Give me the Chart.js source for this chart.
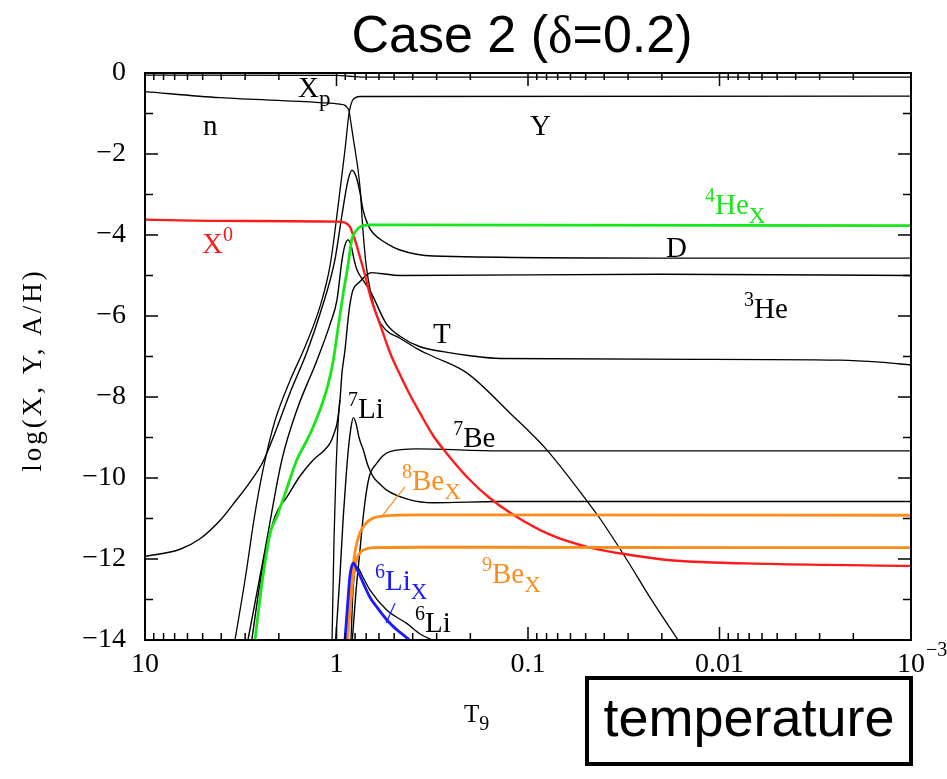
<!DOCTYPE html>
<html>
<head>
<meta charset="utf-8">
<script src="https://cdn.jsdelivr.net/npm/chart.js@4.4.1/dist/chart.umd.min.js"></script>
<style>
  html, body { margin: 0; padding: 0; background: #ffffff; }
  #wrap { position: relative; width: 947px; height: 779px; }
</style>
</head>
<body>
<div id="wrap"><canvas id="c" width="947" height="779"></canvas></div>
<script>
// Abundance tracks, each point is [T9, log10 abundance].
const protonXp = [[10,-0.05],[1.0,-0.06],[0.85,-0.08],[0.7,-0.1],[0.001,-0.1]];
const neutron = [[10,-0.46],[4.06,-0.61],[1.22,-0.73],[0.959,-0.77],[0.903,-0.80],[0.882,-0.85],[0.86,-0.93],[0.85,-1.08],[0.82,-1.57],[0.754,-2.81],[0.727,-3.9],[0.70,-4.75],[0.657,-5.5],[0.614,-6.02],[0.551,-6.35],[0.466,-6.55],[0.366,-6.85],[0.313,-7.0],[0.208,-7.41],[0.124,-8.40],[0.0796,-9.31],[0.0486,-10.6],[0.0421,-11.0],[0.0311,-11.95],[0.0225,-13.03],[0.0161,-14.07]];
const helium4Y = [[3.39,-14.0],[3.0,-12.5],[2.67,-10.9],[2.42,-9.8],[2.10,-8.6],[1.75,-7.6],[1.46,-6.76],[1.22,-5.77],[1.08,-4.75],[0.982,-3.3],[0.903,-1.9],[0.86,-1.0],[0.82,-0.66],[0.754,-0.58],[0.001,-0.57]];
const deuterium = [[10,-11.94],[6.56,-11.76],[5.16,-11.5],[4.06,-11.05],[3.47,-10.65],[2.83,-10.1],[2.42,-9.6],[2.10,-8.9],[1.75,-7.9],[1.43,-6.9],[1.22,-5.95],[1.02,-4.62],[0.936,-3.5],[0.871,-2.65],[0.83,-2.4],[0.791,-2.55],[0.754,-2.95],[0.727,-3.38],[0.685,-3.75],[0.645,-3.95],[0.551,-4.2],[0.466,-4.37],[0.313,-4.52],[0.0205,-4.57],[0.001,-4.57]];
const tritium = [[2.90,-14.0],[2.36,-11.76],[1.93,-9.56],[1.61,-8.32],[1.264,-7.09],[1.08,-6.2],[0.994,-5.6],[0.936,-4.62],[0.903,-4.25],[0.871,-4.12],[0.84,-4.25],[0.81,-4.6],[0.782,-4.86],[0.718,-5.15],[0.657,-5.44],[0.551,-6.18],[0.466,-6.5],[0.366,-6.76],[0.278,-6.88],[0.201,-6.98],[0.14,-7.05],[0.01265,-7.07],[0.00235,-7.09],[0.00145,-7.14],[0.001,-7.21]];
const helium3 = [[2.77,-14.0],[2.45,-12.3],[2.10,-10.96],[1.81,-10.46],[1.55,-9.95],[1.327,-9.56],[1.15,-9.3],[1.08,-9.14],[1.03,-8.9],[0.994,-8.65],[0.959,-8.07],[0.936,-7.4],[0.903,-6.84],[0.871,-6.1],[0.85,-5.7],[0.82,-5.36],[0.754,-5.15],[0.693,-4.98],[0.657,-4.93],[0.593,-4.95],[0.466,-5.0],[0.0205,-4.97],[0.001,-5.0]];
// steep early rise that merges into the helium-3 track
const helium3Branch = [[1.055,-14.0],[1.03,-11.5],[1.006,-9.8],[0.988,-8.9],[0.97,-8.3],[0.959,-8.07]];
const lithium7 = [[1.01,-14.0],[0.959,-12.4],[0.922,-10.96],[0.892,-10.0],[0.868,-9.31],[0.84,-8.75],[0.817,-8.51],[0.791,-8.65],[0.763,-9.0],[0.724,-9.31],[0.685,-9.7],[0.643,-9.97],[0.593,-10.15],[0.547,-10.3],[0.413,-10.54],[0.313,-10.61],[0.14,-10.58],[0.001,-10.58]];
const beryllium7 = [[0.827,-14.0],[0.791,-12.8],[0.754,-11.78],[0.727,-11.0],[0.696,-10.3],[0.668,-9.9],[0.617,-9.64],[0.572,-9.45],[0.526,-9.35],[0.381,-9.28],[0.14,-9.33],[0.001,-9.33]];
const lithium6 = [[0.84,-14.0],[0.82,-12.8],[0.784,-12.19],[0.727,-12.45],[0.668,-12.77],[0.547,-13.26],[0.43,-13.59],[0.366,-13.85],[0.2987,-14.05]];
const xNeutral = [[10,-3.62],[4.06,-3.65],[0.994,-3.67],[0.936,-3.68],[0.882,-3.72],[0.85,-3.8],[0.83,-3.92],[0.791,-4.2],[0.754,-4.55],[0.718,-4.9],[0.657,-5.6],[0.593,-6.2],[0.526,-6.9],[0.466,-7.45],[0.413,-7.95],[0.366,-8.4],[0.313,-8.95],[0.265,-9.4],[0.201,-10.05],[0.158,-10.5],[0.12,-10.9],[0.0767,-11.4],[0.0474,-11.72],[0.0293,-11.9],[0.0181,-12.03],[0.00545,-12.12],[0.001,-12.17]];
const he4X = [[2.67,-14.04],[2.45,-12.6],[2.22,-11.36],[2.052,-10.96],[1.86,-10.4],[1.614,-9.56],[1.519,-9.31],[1.37,-8.9],[1.22,-8.32],[1.108,-7.7],[1.039,-7.09],[0.979,-6.26],[0.922,-5.44],[0.868,-4.7],[0.833,-4.12],[0.791,-3.9],[0.754,-3.80],[0.668,-3.75],[0.001,-3.77]];
const be8X = [[0.885,-14.0],[0.86,-13.2],[0.833,-12.6],[0.81,-12.0],[0.784,-11.61],[0.754,-11.35],[0.724,-11.2],[0.685,-11.07],[0.643,-10.99],[0.547,-10.93],[0.366,-10.91],[0.001,-10.92]];
const be9X = [[0.876,-14.0],[0.85,-13.3],[0.82,-12.5],[0.784,-12.0],[0.754,-11.85],[0.724,-11.78],[0.645,-11.72],[0.366,-11.71],[0.001,-11.72]];
const li6X = [[0.903,-14.0],[0.871,-13.0],[0.85,-12.4],[0.817,-12.1],[0.782,-12.25],[0.724,-12.6],[0.668,-12.95],[0.617,-13.18],[0.558,-13.45],[0.505,-13.67],[0.455,-13.85],[0.403,-14.05]];

// Axis ticks
const xMajorTicks = [10, 1, 0.1, 0.01, 0.001];
const xTickLabels = ['10', '1', '0.1', '0.01', '10'];
const yTickValues = [0, -2, -4, -6, -8, -10, -12, -14];
const yTickLabels = ['0', '\u22122', '\u22124', '\u22126', '\u22128', '\u221210', '\u221212', '\u221214'];

// Curve labels: anchor [T9, log value] of the text's left baseline
const curveLabels = [
  { at: [1.59, -0.59], color: '#000', parts: [['X', ''], ['p', 'sub']] },
  { at: [4.98, -1.53], color: '#000', parts: [['n', '']] },
  { at: [0.0976, -1.53], color: '#000', parts: [['Y', '']] },
  { at: [0.0119, -3.48], color: '#19e619', parts: [['4', 'sup'], ['He', ''], ['X', 'sub']] },
  { at: [0.019, -4.54], color: '#000', parts: [['D', '']] },
  { at: [0.00745, -6.05], color: '#000', parts: [['3', 'sup'], ['He', '']] },
  { at: [0.313, -6.67], color: '#000', parts: [['T', '']] },
  { at: [0.246, -9.23], color: '#000', parts: [['7', 'sup'], ['Be', '']] },
  { at: [0.871, -8.52], color: '#000', parts: [['7', 'sup'], ['Li', '']] },
  { at: [5.04, -4.44], color: '#ff1a1a', parts: [['X', ''], ['0', 'sup']] },
  { at: [0.455, -10.30], color: '#ff8c1a', parts: [['8', 'sup'], ['Be', ''], ['X', 'sub']] },
  { at: [0.174, -12.59], color: '#ff8c1a', parts: [['9', 'sup'], ['Be', ''], ['X', 'sub']] },
  { at: [0.63, -12.77], color: '#1a1aff', parts: [['6', 'sup'], ['Li', ''], ['X', 'sub']] },
  { at: [0.389, -13.8], color: '#000', parts: [['6', 'sup'], ['Li', '']] }
];
// Thin pointer lines from a label to its curve
const pointerLines = [
  { from: [0.439, -10.22], to: [0.572, -10.91], color: '#ff8c1a' },
  { from: [0.495, -13.09], to: [0.551, -13.58], color: '#1a1aff' }
];

const SERIF = '"Liberation Serif", "DejaVu Serif", serif';
const SANS = '"Liberation Sans", Arial, sans-serif';

function toPoints(arr) { return arr.map(p => ({ x: p[0], y: p[1] })); }
function track(data, color, width) {
  return {
    data: toPoints(data), borderColor: color, borderWidth: width,
    pointRadius: 0, tension: 0.4, cubicInterpolationMode: 'monotone',
    fill: false, clip: 0
  };
}

// Colored tracks first so they sit on top of the black ones.
const datasets = [
  track(li6X, '#1a1aff', 2.8),
  track(be8X, '#ff8c1a', 2.8),
  track(be9X, '#ff8c1a', 2.8),
  track(he4X, '#19e619', 2.8),
  track(xNeutral, '#ff1a1a', 2.4),
  track(protonXp, '#000', 1.3),
  track(neutron, '#000', 1.3),
  track(helium4Y, '#000', 1.3),
  track(deuterium, '#000', 1.4),
  track(tritium, '#000', 1.4),
  track(helium3, '#000', 1.4),
  track(helium3Branch, '#000', 1.3),
  track(lithium7, '#000', 1.4),
  track(beryllium7, '#000', 1.4),
  track(lithium6, '#000', 1.3)
];

function drawRich(ctx, x, y, parts, size) {
  let cx = x;
  for (const [t, kind] of parts) {
    let fs = size, dy = 0;
    if (kind === 'sup') { fs = Math.round(size * 0.7); dy = -Math.round(size * 0.4); }
    if (kind === 'sub') { fs = Math.round(size * 0.78); dy = Math.round(size * 0.3); }
    ctx.font = fs + 'px ' + SERIF;
    ctx.fillText(t, cx, y + dy);
    cx += ctx.measureText(t).width;
  }
}

const decorations = {
  id: 'decorations',
  afterDatasetsDraw(chart) {
    const ctx = chart.ctx;
    const xs = chart.scales.x, ys = chart.scales.y;
    const a = chart.chartArea;
    ctx.save();
    // frame
    ctx.strokeStyle = '#000';
    ctx.lineWidth = 2;
    ctx.strokeRect(a.left, a.top, a.right - a.left, a.bottom - a.top);

    // x ticks on bottom and top, pointing inward
    ctx.lineWidth = 1.5;
    ctx.beginPath();
    for (let d = -3; d <= 0; d++) {
      for (let k = 1; k <= 10; k++) {
        const v = k * Math.pow(10, d);
        const px = xs.getPixelForValue(v);
        const len = (k === 1 || k === 10) ? 13 : 7;
        ctx.moveTo(px, a.bottom); ctx.lineTo(px, a.bottom - len);
        ctx.moveTo(px, a.top); ctx.lineTo(px, a.top + len);
      }
    }
    // y ticks on left and right
    for (let v = -14; v <= 0; v++) {
      const py = ys.getPixelForValue(v);
      const len = (v % 2 === 0) ? 13 : 8;
      ctx.moveTo(a.left, py); ctx.lineTo(a.left + len, py);
      ctx.moveTo(a.right, py); ctx.lineTo(a.right - len, py);
    }
    ctx.stroke();

    // pointer lines
    ctx.lineWidth = 1.2;
    for (const p of pointerLines) {
      ctx.strokeStyle = p.color;
      ctx.beginPath();
      ctx.moveTo(xs.getPixelForValue(p.from[0]), ys.getPixelForValue(p.from[1]));
      ctx.lineTo(xs.getPixelForValue(p.to[0]), ys.getPixelForValue(p.to[1]));
      ctx.stroke();
    }
    ctx.strokeStyle = '#000';

    // curve labels
    ctx.textBaseline = 'alphabetic';
    ctx.textAlign = 'left';
    for (const l of curveLabels) {
      ctx.fillStyle = l.color;
      drawRich(ctx, xs.getPixelForValue(l.at[0]), ys.getPixelForValue(l.at[1]), l.parts, 29);
    }

    // tick labels
    ctx.fillStyle = '#000';
    ctx.textAlign = 'center';
    ctx.textBaseline = 'top';
    xMajorTicks.forEach((v, i) => {
      const px = xs.getPixelForValue(v);
      ctx.font = '28px ' + SERIF;
      ctx.fillText(xTickLabels[i], px, a.bottom + 11);
      if (v === 0.001) {
        const w = ctx.measureText(xTickLabels[i]).width;
        ctx.font = '20px ' + SERIF;
        ctx.textAlign = 'left';
        ctx.fillText('\u22123', px + w / 2 + 1, a.bottom + 1);
        ctx.textAlign = 'center';
      }
    });
    ctx.textAlign = 'right';
    ctx.textBaseline = 'middle';
    ctx.font = '28px ' + SERIF;
    yTickValues.forEach((v, i) => {
      ctx.fillText(yTickLabels[i], a.left - 19, ys.getPixelForValue(v));
    });

    // axis titles
    ctx.textAlign = 'left';
    ctx.textBaseline = 'alphabetic';
    drawRich(ctx, 464, 722, [['T', ''], ['9', 'sub']], 25);
    ctx.save();
    ctx.translate(41, 370);
    ctx.rotate(-Math.PI / 2);
    ctx.textAlign = 'center';
    ctx.font = '27px ' + SERIF;
    ctx.letterSpacing = '3px';
    ctx.fillText('log(X, Y, A/H)', 0, 0);
    ctx.restore();

    // heading
    const parts = [['Case 2 (', SANS], ['\u03b4', SERIF], ['=0.2)', SANS]];
    let total = 0;
    const widths = parts.map(([t, f]) => { ctx.font = '52px ' + f; const w = ctx.measureText(t).width; total += w; return w; });
    let hx = 522 - total / 2;
    ctx.textAlign = 'left';
    parts.forEach(([t, f], i) => { ctx.font = '52px ' + f; ctx.fillText(t, hx, 52); hx += widths[i]; });

    // boxed caption
    ctx.strokeStyle = '#000';
    ctx.lineWidth = 4;
    ctx.strokeRect(587, 678, 324, 86);
    ctx.font = '54px ' + SANS;
    ctx.textAlign = 'center';
    ctx.textBaseline = 'middle';
    ctx.fillText('temperature', 749, 721);
    ctx.restore();
  }
};

new Chart(document.getElementById('c'), {
  type: 'line',
  data: { datasets },
  options: {
    responsive: false,
    animation: false,
    devicePixelRatio: 1,
    layout: { padding: { left: 145, top: 73, right: 36, bottom: 139 } },
    plugins: { legend: { display: false }, tooltip: { enabled: false }, title: { display: false } },
    scales: {
      x: { type: 'logarithmic', min: 0.001, max: 10, reverse: true, display: false },
      y: { type: 'linear', min: -14, max: 0, display: false }
    }
  },
  plugins: [decorations]
});
</script>
</body>
</html>
